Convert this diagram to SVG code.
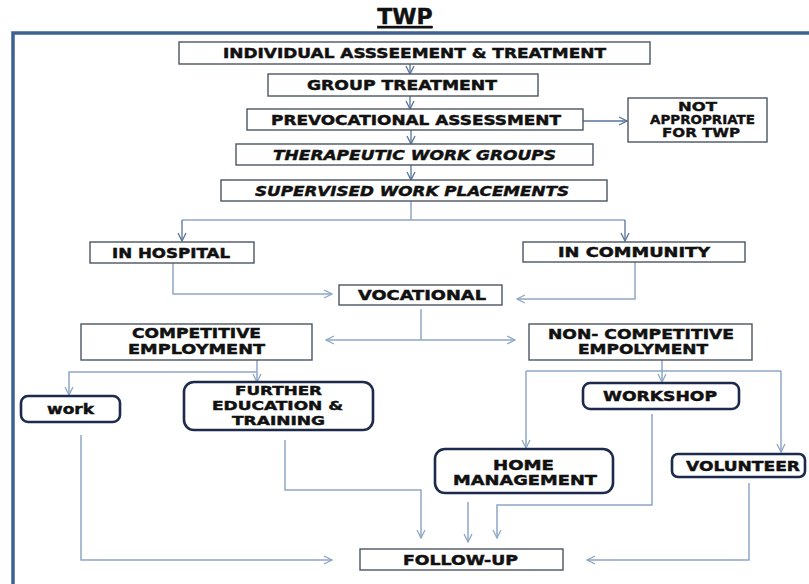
<svg xmlns="http://www.w3.org/2000/svg" width="809" height="584" viewBox="0 0 809 584">
<defs>
<style>
.bg{fill:#ffffff}
.frame{fill:none;stroke:#3e6190;stroke-width:3.5}
.box{fill:#ffffff;stroke:#4c5563;stroke-width:1.4}
.rbox{fill:#ffffff;stroke:#1c2a4c;stroke-width:2.6}
.t{font-family:"DejaVu Sans","Liberation Sans",sans-serif;font-weight:bold;font-size:13.5px;fill:#111111;stroke:#111111;stroke-width:0.45}
.ti{font-style:italic}
.s{font-size:11.5px;stroke-width:0.35}
.m{font-size:12.5px}
.title{font-family:"DejaVu Sans","Liberation Sans",sans-serif;font-weight:bold;font-size:22px;fill:#111111;stroke:#111111;stroke-width:0.4;text-decoration:underline}
.c{fill:none;stroke:#8ea7c6;stroke-width:1.5}
.cd{fill:none;stroke:#56739a;stroke-width:1.3}
</style>
<marker id="a" viewBox="0 0 10 10" refX="9" refY="5" markerWidth="10" markerHeight="10" markerUnits="userSpaceOnUse" orient="auto">
<path d="M1,1 L9,5 L1,9" fill="none" stroke="#8ea7c6" stroke-width="1.3"/>
</marker>
<marker id="ad" viewBox="0 0 10 10" refX="9" refY="5" markerWidth="10" markerHeight="10" markerUnits="userSpaceOnUse" orient="auto">
<path d="M1,1 L9,5 L1,9" fill="none" stroke="#56739a" stroke-width="1.3"/>
</marker>
</defs>
<rect class="bg" x="0" y="0" width="809" height="584"/>
<text class="title" x="405" y="24" text-anchor="middle">TWP</text>
<rect class="frame" x="13" y="33" width="820" height="580"/>

<g id="connectors">
<path class="cd" d="M410,64 V74" marker-end="url(#ad)"/>
<path class="cd" d="M410,96 V109" marker-end="url(#ad)"/>
<path class="cd" d="M583,121 H627" marker-end="url(#ad)"/>
<path class="cd" d="M411,130 V144" marker-end="url(#ad)"/>
<path class="cd" d="M411,165 V180" marker-end="url(#ad)"/>
<path class="c" d="M411,201 V220"/>
<path class="c" d="M182,220 H625"/>
<path class="cd" d="M182,220 V241" marker-end="url(#ad)"/>
<path class="cd" d="M625,220 V241" marker-end="url(#ad)"/>
<path class="c" d="M173,263 V294 H332" marker-end="url(#a)"/>
<path class="c" d="M635,262 V299 H517" marker-end="url(#a)"/>
<path class="c" d="M421,309 V340"/>
<path class="c" d="M421,340 H326" marker-end="url(#a)"/>
<path class="c" d="M421,340 H515" marker-end="url(#a)"/>
<path class="c" d="M257,360 V382" marker-end="url(#a)"/>
<path class="c" d="M257,372 H69 V395" marker-end="url(#a)"/>
<path class="c" d="M662,360 V382" marker-end="url(#a)"/>
<path class="c" d="M526,371 H781"/>
<path class="c" d="M526,371 V448" marker-end="url(#a)"/>
<path class="c" d="M781,371 V452" marker-end="url(#a)"/>
<path class="c" d="M81,435 V560 H332" marker-end="url(#a)"/>
<path class="c" d="M285,440 V490 H421 V538" marker-end="url(#a)"/>
<path class="c" d="M468,502 V542" marker-end="url(#a)"/>
<path class="c" d="M652,414 V505 H497 V538" marker-end="url(#a)"/>
<path class="c" d="M749,483 V560 H587" marker-end="url(#a)"/>
</g>

<g id="individual">
<rect class="box" x="179" y="42" width="471" height="22"/>
<text class="t" x="223" y="58" textLength="383" lengthAdjust="spacingAndGlyphs">INDIVIDUAL ASSSEEMENT &amp; TREATMENT</text>
</g>
<g id="group">
<rect class="box" x="268" y="74" width="270" height="22"/>
<text class="t" x="307" y="90" textLength="190" lengthAdjust="spacingAndGlyphs">GROUP TREATMENT</text>
</g>
<g id="prevocational">
<rect class="box" x="247" y="109" width="336" height="21"/>
<text class="t" x="271" y="125" textLength="290" lengthAdjust="spacingAndGlyphs">PREVOCATIONAL ASSESSMENT</text>
</g>
<g id="notappropriate">
<rect class="box" x="628" y="98" width="139" height="44"/>
<text class="t s" x="678" y="111" textLength="39" lengthAdjust="spacingAndGlyphs">NOT</text>
<text class="t s" x="650" y="124" textLength="105" lengthAdjust="spacingAndGlyphs">APPROPRIATE</text>
<text class="t s" x="662" y="137" textLength="78" lengthAdjust="spacingAndGlyphs">FOR TWP</text>
</g>
<g id="therapeutic">
<rect class="box" x="236" y="144" width="357" height="21"/>
<text class="t ti" x="273" y="160" textLength="283" lengthAdjust="spacingAndGlyphs">THERAPEUTIC WORK  GROUPS</text>
</g>
<g id="supervised">
<rect class="box" x="221" y="180" width="386" height="21"/>
<text class="t ti" x="255" y="196" textLength="314" lengthAdjust="spacingAndGlyphs">SUPERVISED WORK PLACEMENTS</text>
</g>
<g id="hospital">
<rect class="box" x="90" y="242" width="164" height="21"/>
<text class="t" x="112" y="258" textLength="118" lengthAdjust="spacingAndGlyphs">IN HOSPITAL</text>
</g>
<g id="community">
<rect class="box" x="523" y="242" width="222" height="20"/>
<text class="t" x="558" y="257" textLength="152" lengthAdjust="spacingAndGlyphs">IN COMMUNITY</text>
</g>
<g id="vocational">
<rect class="box" x="339" y="285" width="163" height="20"/>
<text class="t" x="358" y="300" textLength="128" lengthAdjust="spacingAndGlyphs">VOCATIONAL</text>
</g>
<g id="competitive">
<rect class="box" x="81" y="324" width="231" height="36"/>
<text class="t" x="132" y="338" textLength="129" lengthAdjust="spacingAndGlyphs">COMPETITIVE</text>
<text class="t" x="128" y="354" textLength="137" lengthAdjust="spacingAndGlyphs">EMPLOYMENT</text>
</g>
<g id="noncompetitive">
<rect class="box" x="529" y="324" width="223" height="36"/>
<text class="t" x="548" y="339" textLength="186" lengthAdjust="spacingAndGlyphs">NON- COMPETITIVE</text>
<text class="t" x="578" y="354" textLength="130" lengthAdjust="spacingAndGlyphs">EMPOLYMENT</text>
</g>
<g id="work">
<rect class="rbox" x="21" y="396" width="99" height="26" rx="7"/>
<text class="t" x="47" y="414" textLength="47" lengthAdjust="spacingAndGlyphs">work</text>
</g>
<g id="further">
<rect class="rbox" x="184" y="382" width="189" height="48" rx="10"/>
<text class="t m" x="235" y="395" textLength="87" lengthAdjust="spacingAndGlyphs">FURTHER</text>
<text class="t m" x="212" y="410" textLength="131" lengthAdjust="spacingAndGlyphs">EDUCATION &amp;</text>
<text class="t m" x="232" y="425" textLength="93" lengthAdjust="spacingAndGlyphs">TRAINING</text>
</g>
<g id="workshop">
<rect class="rbox" x="583" y="383" width="156" height="26" rx="7"/>
<text class="t" x="603" y="401" textLength="114" lengthAdjust="spacingAndGlyphs">WORKSHOP</text>
</g>
<g id="home">
<rect class="rbox" x="435" y="449" width="178" height="44" rx="10"/>
<text class="t" x="493" y="470" textLength="61" lengthAdjust="spacingAndGlyphs">HOME</text>
<text class="t" x="453" y="485" textLength="144" lengthAdjust="spacingAndGlyphs">MANAGEMENT</text>
</g>
<g id="volunteer">
<rect class="rbox" x="672" y="454" width="133" height="23" rx="6"/>
<text class="t" x="686" y="471" textLength="114" lengthAdjust="spacingAndGlyphs">VOLUNTEER</text>
</g>
<g id="followup">
<rect class="box" x="360" y="549" width="203" height="21"/>
<text class="t" x="403" y="565" textLength="115" lengthAdjust="spacingAndGlyphs">FOLLOW-UP</text>
</g>
</svg>
